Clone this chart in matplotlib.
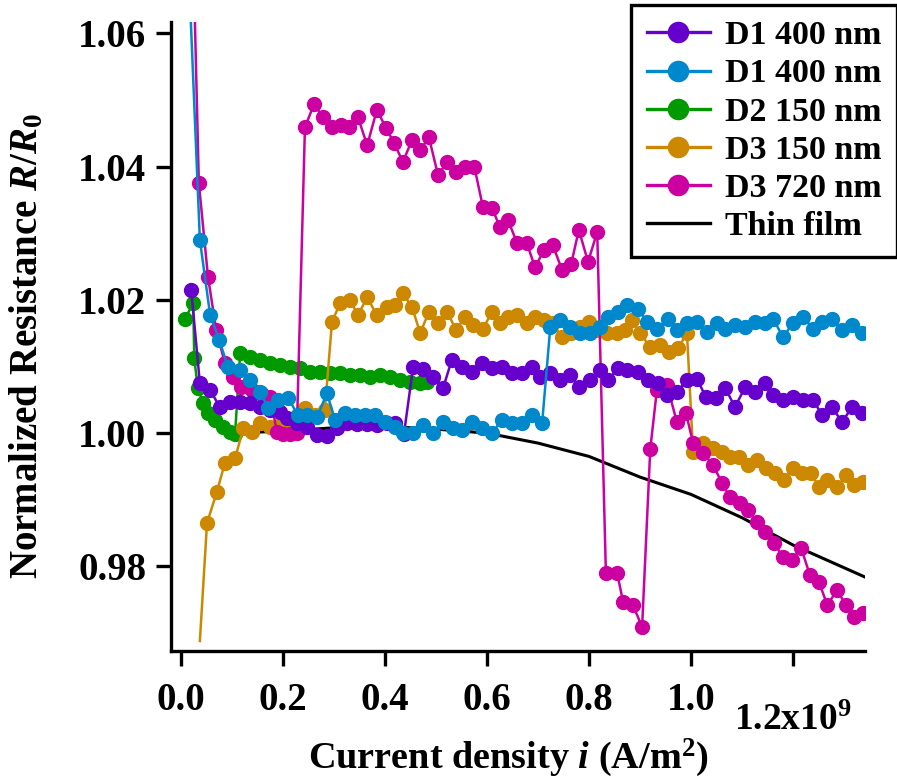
import matplotlib
matplotlib.use("Agg")
import matplotlib.pyplot as plt
import matplotlib.transforms as mtransforms
import numpy as np

plt.rcParams['font.family'] = ['Liberation Serif', 'DejaVu Serif']
plt.rcParams['font.weight'] = 'bold'
plt.rcParams['mathtext.fontset'] = 'custom'
plt.rcParams['mathtext.rm'] = 'Liberation Serif:bold'
plt.rcParams['mathtext.bf'] = 'Liberation Serif:bold'
plt.rcParams['mathtext.it'] = 'Liberation Serif:italic:bold'

# current density in units of 1e9 A/m^2, normalized resistance R/R0
d1a_x = [0.020, 0.037, 0.057, 0.076, 0.096, 0.116, 0.135, 0.155, 0.175, 0.194,
         0.208, 0.227, 0.247, 0.267, 0.286, 0.306, 0.325, 0.345, 0.365, 0.384,
         0.404, 0.420, 0.437, 0.455, 0.475, 0.494, 0.514, 0.531, 0.551, 0.571,
         0.590, 0.610, 0.629, 0.649, 0.669, 0.688, 0.704, 0.724, 0.743, 0.763,
         0.780, 0.802, 0.822, 0.837, 0.857, 0.875, 0.896, 0.916, 0.935, 0.953,
         0.973, 0.992, 1.012, 1.029, 1.049, 1.067, 1.086, 1.106, 1.125, 1.145,
         1.161, 1.180, 1.200, 1.220, 1.239, 1.257, 1.276, 1.296, 1.316, 1.335]
d1a_y = [1.0215, 1.0075, 1.0065, 1.0039, 1.0047, 1.0047, 1.0045, 1.0039, 1.0035, 1.0032,
         1.0023, 1.0015, 1.0009, 0.9997, 0.9995, 1.0008, 1.0015, 1.0014, 1.0013, 1.0012,
         1.0015, 1.0015, 0.9998, 1.0099, 1.0096, 1.0084, 1.0068, 1.0110, 1.0099, 1.0092,
         1.0105, 1.0098, 1.0099, 1.0090, 1.0090, 1.0099, 1.0084, 1.0090, 1.0080, 1.0087,
         1.0069, 1.0080, 1.0095, 1.0080, 1.0097, 1.0095, 1.0092, 1.0080, 1.0075, 1.0057,
         1.0062, 1.0080, 1.0081, 1.0054, 1.0052, 1.0068, 1.0039, 1.0069, 1.0062, 1.0075,
         1.0057, 1.0050, 1.0054, 1.0050, 1.0050, 1.0027, 1.0039, 1.0017, 1.0039, 1.0030]

d1b_x = [0.017, 0.037, 0.057, 0.075, 0.092, 0.116, 0.135, 0.155, 0.171, 0.190,
         0.210, 0.229, 0.247, 0.267, 0.286, 0.302, 0.322, 0.341, 0.361, 0.380,
         0.400, 0.420, 0.435, 0.455, 0.475, 0.494, 0.514, 0.533, 0.551, 0.571,
         0.590, 0.610, 0.629, 0.649, 0.669, 0.688, 0.708, 0.724, 0.743, 0.763,
         0.782, 0.802, 0.822, 0.837, 0.857, 0.875, 0.896, 0.914, 0.933, 0.955,
         0.973, 0.992, 1.012, 1.031, 1.051, 1.067, 1.086, 1.106, 1.125, 1.145,
         1.161, 1.180, 1.200, 1.220, 1.239, 1.257, 1.276, 1.296, 1.316, 1.335]
d1b_y = [1.066, 1.029, 1.0178, 1.014, 1.0099, 1.0095, 1.008, 1.0062, 1.0038, 1.005,
         1.0053, 1.0027, 1.0027, 1.0024, 1.006, 1.002, 1.003, 1.0027, 1.0027, 1.0027,
         1.0017, 1.0009, 1.0, 1.0, 1.0012, 1.0, 1.0017, 1.0007, 1.0004, 1.0017,
         1.0007, 1.0, 1.002, 1.0015, 1.0015, 1.0027, 1.0015, 1.0159, 1.017, 1.0159,
         1.015, 1.015, 1.0159, 1.0174, 1.0182, 1.0192, 1.0187, 1.0167, 1.0157, 1.0172,
         1.0155, 1.0165, 1.0167, 1.0152, 1.0165, 1.0157, 1.0162, 1.0159, 1.0167, 1.0165,
         1.0172, 1.0144, 1.0165, 1.0174, 1.0157, 1.0167, 1.0172, 1.0155, 1.0162, 1.015]

d2_x = [0.008, 0.024, 0.026, 0.033, 0.043, 0.053, 0.067, 0.082, 0.096, 0.106,
        0.116, 0.135, 0.155, 0.175, 0.194, 0.214, 0.233, 0.253, 0.273, 0.292,
        0.312, 0.331, 0.351, 0.371, 0.390, 0.410, 0.430, 0.449, 0.469, 0.482]
d2_y = [1.0172, 1.0195, 1.0112, 1.0068, 1.0045, 1.003, 1.002, 1.0009, 1.0002, 0.9999,
        1.012, 1.0114, 1.011, 1.0105, 1.0102, 1.0099, 1.0098, 1.0092, 1.0092, 1.009,
        1.009, 1.0087, 1.0087, 1.0084, 1.0087, 1.0084, 1.008, 1.0077, 1.0075, 1.0077]

d3a_x = [0.037, 0.051, 0.070, 0.086, 0.106, 0.122, 0.139, 0.155, 0.175, 0.194,
         0.214, 0.228, 0.243, 0.263, 0.282, 0.296, 0.312, 0.331, 0.347, 0.365,
         0.384, 0.404, 0.420, 0.435, 0.453, 0.469, 0.486, 0.504, 0.522, 0.539,
         0.557, 0.573, 0.592, 0.610, 0.625, 0.641, 0.659, 0.678, 0.694, 0.712,
         0.729, 0.747, 0.765, 0.782, 0.800, 0.818, 0.835, 0.855, 0.871, 0.884,
         0.900, 0.920, 0.939, 0.957, 0.975, 0.992, 1.004, 1.024, 1.043, 1.061,
         1.076, 1.094, 1.112, 1.129, 1.147, 1.165, 1.182, 1.200, 1.218, 1.235,
         1.251, 1.267, 1.286, 1.304, 1.320, 1.337]
d3a_y = [0.9688, 0.9865, 0.9911, 0.9955, 0.9962, 1.0007, 1.0002, 1.0015, 1.0009, 1.0012,
         1.0018, 1.0025, 1.0038, 1.0027, 1.0035, 1.0167, 1.0195, 1.0200, 1.0177, 1.0204,
         1.0177, 1.0189, 1.0192, 1.0210, 1.0189, 1.0150, 1.0182, 1.0165, 1.0182, 1.0155,
         1.0174, 1.0162, 1.0157, 1.0182, 1.0165, 1.0174, 1.0177, 1.0165, 1.0174, 1.0170,
         1.0165, 1.0144, 1.0150, 1.0159, 1.0167, 1.0155, 1.0150, 1.0150, 1.0155, 1.0170,
         1.0150, 1.0129, 1.0132, 1.0122, 1.0128, 1.0150, 0.9971, 0.9985, 0.9977, 0.9971,
         0.9964, 0.9964, 0.9952, 0.9960, 0.9947, 0.9940, 0.9930, 0.9947, 0.9940, 0.9940,
         0.9919, 0.9930, 0.9919, 0.9937, 0.9922, 0.9926]

d3b_x = [0.0176, 0.035, 0.053, 0.069, 0.086, 0.102, 0.118, 0.139, 0.157, 0.175,
         0.188, 0.200, 0.214, 0.227, 0.243, 0.261, 0.278, 0.296, 0.314, 0.330,
         0.347, 0.365, 0.384, 0.402, 0.418, 0.435, 0.453, 0.469, 0.486, 0.504,
         0.522, 0.539, 0.557, 0.575, 0.592, 0.610, 0.625, 0.641, 0.659, 0.678,
         0.694, 0.712, 0.729, 0.747, 0.765, 0.780, 0.798, 0.816, 0.833, 0.855,
         0.867, 0.886, 0.904, 0.920, 0.933, 0.953, 0.972, 0.990, 1.004, 1.024,
         1.043, 1.061, 1.076, 1.096, 1.112, 1.129, 1.145, 1.163, 1.180, 1.198,
         1.216, 1.233, 1.251, 1.267, 1.286, 1.304, 1.320, 1.337]
d3b_y = [1.092, 1.0375, 1.0234, 1.0155, 1.0105, 1.0084, 1.0069, 1.0065, 1.0060, 1.0054,
         1.0002, 0.9998, 0.9998, 1.0000, 1.0459, 1.0494, 1.0474, 1.0459, 1.0462, 1.0459,
         1.0474, 1.0432, 1.0485, 1.0458, 1.0435, 1.0407, 1.0440, 1.0425, 1.0444, 1.0387,
         1.0407, 1.0392, 1.0399, 1.0400, 1.0339, 1.0338, 1.0309, 1.0320, 1.0285, 1.0285,
         1.0249, 1.0275, 1.0282, 1.0245, 1.0254, 1.0305, 1.0257, 1.0302, 0.9790, 0.9790,
         0.9746, 0.9742, 0.9709, 0.9976, 1.0065, 1.0072, 1.0017, 1.0030, 0.9985, 0.9970,
         0.9952, 0.9925, 0.9904, 0.9895, 0.9884, 0.9866, 0.9851, 0.9835, 0.9814, 0.9810,
         0.9827, 0.9787, 0.9776, 0.9742, 0.9764, 0.9742, 0.9724, 0.9730]

film_x = [0.10, 0.20, 0.30, 0.40, 0.50, 0.60, 0.70, 0.80, 0.90, 1.00, 1.10, 1.20, 1.341]
film_y = [1.0000, 1.0003, 1.0008, 1.0010, 1.0006, 1.0000, 0.9985, 0.9965, 0.9934,
          0.9908, 0.9873, 0.9832, 0.9784]

xticks = [0.0, 0.2, 0.4, 0.6, 0.8, 1.0, 1.2]
xticklabels = ['0.0', '0.2', '0.4', '0.6', '0.8', '1.0', '']
yticks = [0.98, 1.00, 1.02, 1.04, 1.06]

fig = plt.figure(figsize=(8.97, 7.81), dpi=100)
ax = fig.add_axes([171/897, 1 - 651/781, 694/897, 629/781])

l_film, = ax.plot(film_x, film_y, color='black', lw=2.2, zorder=1, label='Thin film')
l_d2, = ax.plot(d2_x, d2_y, '-o', color='#009900', ms=10, lw=1.8, zorder=2, label='D2 150 nm')
l_d3a, = ax.plot(d3a_x, d3a_y, '-o', color='#CC8800', ms=10, lw=1.8, zorder=3,
                 markevery=list(range(1, len(d3a_x))), label='D3 150 nm')
l_d3b, = ax.plot(d3b_x, d3b_y, '-o', color='#CC00A0', ms=10, lw=1.8, zorder=4, label='D3 720 nm')
l_d1a, = ax.plot(d1a_x, d1a_y, '-o', color='#6600CC', ms=10, lw=1.8, zorder=5, label='D1 400 nm')
l_d1b, = ax.plot(d1b_x, d1b_y, '-o', color='#0088CC', ms=10, lw=1.8, zorder=6, label='D1 400 nm')

ax.set_xlim(-0.0196, 1.341)
ax.set_ylim(0.9673, 1.0617)

for s in ['top', 'right']:
    ax.spines[s].set_visible(False)
for s in ['left', 'bottom']:
    ax.spines[s].set_linewidth(2.4)

ax.set_xticks(xticks)
ax.set_xticklabels(xticklabels)
ax.set_yticks(yticks)
ax.set_yticklabels(['%.2f' % v for v in yticks])
ax.tick_params(axis='both', direction='out', length=11, width=2.4, labelsize=28)
ax.tick_params(axis='x', pad=11)
ax.tick_params(axis='y', pad=7)

# last x tick label sits lower, with the exponent
trans = mtransforms.blended_transform_factory(ax.transData, ax.transAxes)
ax.text(1.2, -0.083, '1.2x10$^{9}$', transform=trans, ha='center', va='top',
        fontsize=27, fontweight='bold')

fig.text(508/897, 1 - 768/781, 'Current density $i$ (A/m$^{2}$)', ha='center',
         va='baseline', fontsize=27.5, fontweight='bold')
fig.text(27/897, 1 - 346/781, r'Normalized Resistance $R/R_{\mathit{0}}$', ha='center',
         va='center', rotation=90, fontsize=28, fontweight='bold')

leg = ax.legend(handles=[l_d1a, l_d1b, l_d2, l_d3a, l_d3b, l_film],
                loc='upper right', bbox_to_anchor=(897/897, 1 - 5/781),
                bbox_transform=fig.transFigure, borderaxespad=0, numpoints=1,
                fontsize=24.5, markerscale=1.45, handlelength=1.85, handletextpad=0.45,
                labelspacing=0.21, borderpad=0.45, fancybox=False, framealpha=1,
                edgecolor='black')
leg.get_frame().set_linewidth(2.4)
for h in leg.legend_handles:
    h.set_linewidth(2.4)

fig.savefig('out.png', dpi=100)
